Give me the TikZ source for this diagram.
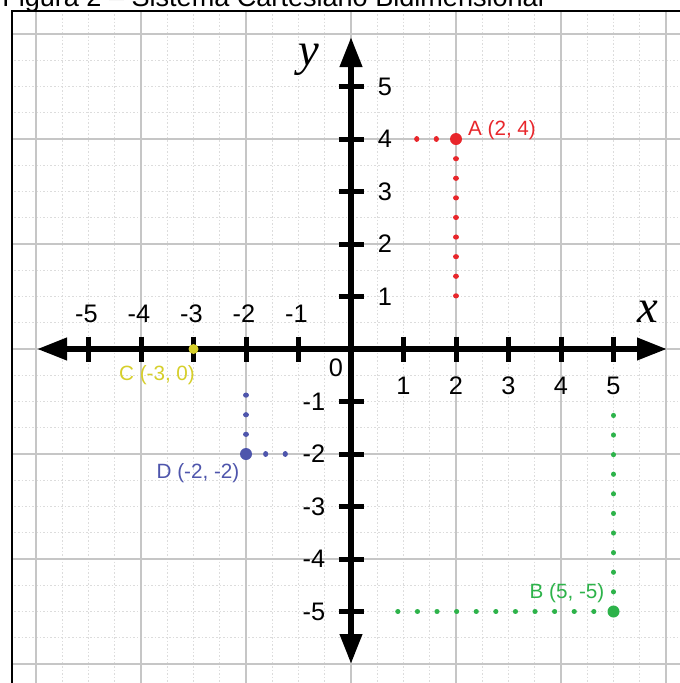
\documentclass[tikz,border=0pt]{standalone}
\usepackage{fontspec}
\setmainfont{Liberation Sans}
\newfontfamily\axfont{Liberation Serif}
\usetikzlibrary{arrows.meta}
\definecolor{gmaj}{HTML}{C6C6C6}
\definecolor{gmin}{HTML}{DCDCDC}
\definecolor{pA}{HTML}{E8262B}
\definecolor{pB}{HTML}{2DB34A}
\definecolor{pC}{HTML}{D6CF2A}
\definecolor{pD}{HTML}{4E55AC}
\begin{document}
\begin{tikzpicture}[x=0.75pt,y=-0.75pt,
  minorgrid/.style={draw=gmin,line width=0.7pt,dash pattern=on 1.2pt off 1.5pt},
  majorgrid/.style={draw=gmaj,line width=1.1pt},
  frameline/.style={draw=black,line width=1.9pt},
  axisline/.style={draw=black,line width=4.5pt,{Triangle[length=22.5pt,width=16pt]}-{Triangle[length=22.5pt,width=16pt]}},
  tickmark/.style={draw=black,line width=3.75pt},
  ticklab/.style={font=\fontsize{19}{19}\selectfont,inner sep=0pt},
  ptlab/.style={font=\fontsize{15.5}{15.5}\selectfont,inner sep=0pt},
  bigdot/.style={circle,inner sep=0pt,minimum size=9pt},
  dotline/.style={line width=3.8pt,line cap=round,dash pattern=on 0.1pt off 14.6pt},
  varlab/.style={font=\axfont\itshape\fontsize{35}{35}\selectfont,inner sep=0pt}]
\useasboundingbox (0,0) rectangle (680,683);
\fill[white] (0,0) rectangle (680,683);
% grid
\begin{scope}
\clip (12,11) rectangle (680,683);
\foreach \k in {-12,...,13} {
  \draw[minorgrid] ({351+\k*26.25},0) -- ({351+\k*26.25},683);
  \draw[minorgrid] (0,{349+\k*26.25}) -- (680,{349+\k*26.25});
}
\foreach \k in {-3,...,3} {
  \draw[majorgrid] ({351+\k*105},0) -- ({351+\k*105},683);
  \draw[majorgrid] (0,{349+\k*105}) -- (680,{349+\k*105});
}
\end{scope}
\coordinate (fb) at (12,683);
\coordinate (fc) at (12,11);
\coordinate (fr) at (680,11);
\draw[frameline] (fb) -- (fc) -- (fr);
% title (cut off by the page edge, as in the reference)
\node[anchor=base west,inner sep=0pt,font=\fontsize{20.3}{20.3}\selectfont] (title) at (2,6) {Figura 2 – Sistema Cartesiano Bidimensional};
% axes
\coordinate (xl) at (37,349);
\coordinate (xr) at (667,349);
\coordinate (yt) at (351,37);
\coordinate (yb) at (351,664);
\draw[axisline] (xl) -- (xr);
\draw[axisline] (yb) -- (yt);
\foreach \k in {-5,...,-1,1,2,...,5} {
  \coordinate (tx\k a) at ({351+\k*52.5},336.5);
  \coordinate (tx\k b) at ({351+\k*52.5},361.5);
  \draw[tickmark] (tx\k a) -- (tx\k b);
  \coordinate (ty\k a) at (338.5,{349-\k*52.5});
  \coordinate (ty\k b) at (363.5,{349-\k*52.5});
  \draw[tickmark] (ty\k a) -- (ty\k b);
}
\foreach \k in {1,...,5} {
  \node[ticklab] (lx\k) at ({351+\k*52.5},386) {\k};
  \node[ticklab] (ly\k) at (385,{349-\k*52.5}) {\k};
  \node[ticklab] (lxm\k) at ({349-\k*52.5},314) {-\k};
  \node[ticklab] (lym\k) at (314,{349+\k*52.5}) {-\k};
}
\node[ticklab] (l0) at (336,368) {0};
\node[varlab] (xlab) at (648,312) {x};
\node[varlab] (ylab) at (309,60) {y};
% points
\coordinate (A) at (456,139);
\coordinate (B) at (613.5,611.5);
\coordinate (C) at (193.5,349);
\coordinate (D) at (246,454);
\coordinate (Av) at (456,{139+8*19.6+1});
\coordinate (Ah) at ({456-2*19.6-1},139);
\coordinate (Bv) at (613.5,{611.5-10*19.6-1});
\coordinate (Bh) at ({613.5-11*19.6-1},611.5);
\coordinate (Dv) at (246,{454-3*19.6-1});
\coordinate (Dh) at ({246+2*19.6+1},454);
\draw[dotline,draw=pA] (A) -- (Av);
\draw[dotline,draw=pA] (A) -- (Ah);
\draw[dotline,draw=pB] (B) -- (Bv);
\draw[dotline,draw=pB] (B) -- (Bh);
\draw[dotline,draw=pD] (D) -- (Dv);
\draw[dotline,draw=pD] (D) -- (Dh);
\node[bigdot,fill=pA] (Adot) at (A) {};
\node[bigdot,fill=pB] (Bdot) at (B) {};
\node[bigdot,fill=pC,minimum size=7.5pt] (Cdot) at (C) {};
\node[bigdot,fill=pD] (Ddot) at (D) {};
\node[ptlab,text=pA] (Alab) at (502,130) {A (2, 4)};
\node[ptlab,text=pB] (Blab) at (567,593) {B (5, -5)};
\node[ptlab,text=pC] (Clab) at (157,375) {C (-3, 0)};
\node[ptlab,text=pD] (Dlab) at (198,473) {D (-2, -2)};
\end{tikzpicture}
\end{document}
